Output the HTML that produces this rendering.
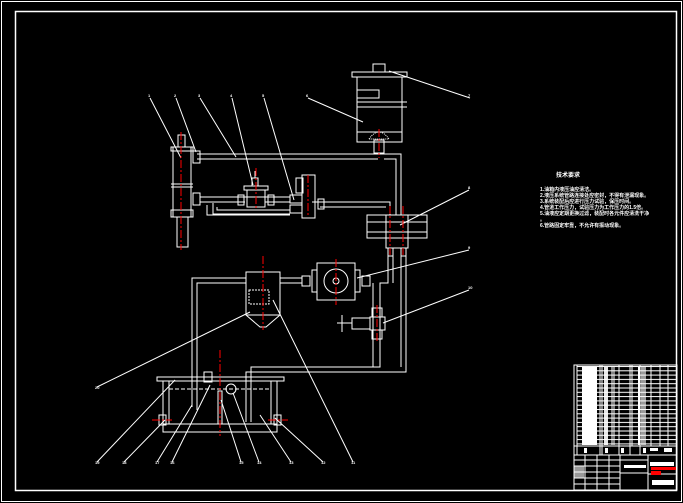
<!DOCTYPE html>
<html><head><meta charset="utf-8"><style>
html,body{margin:0;padding:0;background:#000;width:683px;height:503px;overflow:hidden}
svg{display:block}
text{font-family:"Liberation Sans","Noto Sans CJK SC",sans-serif;fill:#fff}
</style></head><body>
<svg width="683" height="503" viewBox="0 0 683 503" xmlns="http://www.w3.org/2000/svg">
<defs>
<pattern id="rows" x="0" y="366" width="10" height="4.3" patternUnits="userSpaceOnUse">
<line x1="0" y1="0.5" x2="10" y2="0.5" stroke="#fff" stroke-width="1"/>
</pattern>
</defs>
<g fill="none" stroke="#fff" stroke-width="1">
<!-- frames -->
<rect x="1.5" y="1.5" width="680" height="500"/>
<rect x="15.5" y="11.5" width="661" height="479" stroke-width="1.5"/>
<!-- reservoir -->
<rect x="352" y="72" width="55" height="5"/>
<rect x="373" y="64" width="12" height="8"/>
<rect x="357" y="77" width="45" height="65"/>
<rect x="357" y="90" width="22" height="8"/>
<line x1="357" y1="102" x2="407" y2="102"/><line x1="357" y1="107" x2="407" y2="107"/>
<rect x="357" y="132" width="45" height="10"/>
<path d="M369 139 Q379 125 389 139 Z" stroke-dasharray="1 1"/>
<rect x="374" y="140" width="10" height="13"/>
<!-- top pipe -->
<path d="M197 154 H401 V215 M197 159 H378 M384 159 H396 V215"/>
<!-- cylinder -->
<rect x="173" y="147" width="18" height="70"/>
<rect x="171" y="147" width="22" height="4"/>
<line x1="171" y1="184" x2="193" y2="184"/><line x1="171" y1="187" x2="193" y2="187"/>
<rect x="171" y="210" width="22" height="7"/>
<rect x="178" y="135" width="7" height="12"/>
<rect x="177" y="217" width="11" height="30"/>
<rect x="193" y="151" width="7" height="12"/>
<rect x="193" y="193" width="7" height="12"/>
<!-- lower pipes -->
<path d="M200 197 H290 M200 202 H245 M265 202 H290 M312 202 H390 V215 M320 207 H386"/>
<path d="M213 203 V214 H290 M217 207 V210 H290"/>
<path d="M207 205 V215 H290"/>
<rect x="247" y="190" width="18" height="17"/>
<rect x="244" y="186" width="24" height="4"/>
<path d="M252 186 V178 H258 V186 M255 178 V171"/>
<rect x="238" y="195" width="6" height="10"/><rect x="268" y="195" width="6" height="10"/>
<!-- solenoid valve -->
<rect x="302" y="175" width="13" height="43"/>
<rect x="296" y="178" width="7" height="15"/>
<rect x="290" y="195" width="12" height="8"/><rect x="290" y="205" width="12" height="8"/>
<rect x="318" y="199" width="6" height="10"/>
<!-- directional valve -->
<rect x="367" y="215" width="60" height="23"/>
<rect x="386" y="215" width="22" height="33"/>
<line x1="367" y1="222" x2="427" y2="222"/><line x1="367" y1="232" x2="427" y2="232"/>
<rect x="388" y="248" width="5" height="8"/><rect x="401" y="248" width="5" height="8"/>
<!-- right verticals -->
<path d="M388 256 V283 H380 V367 H251 V422 M393 256 V283 M401 256 V367 M406 256 V372 H246 V422"/>
<path d="M373 283 V367"/>
<!-- pump -->
<rect x="317" y="263" width="38" height="37"/>
<circle cx="336" cy="281" r="12"/><circle cx="336" cy="281" r="3"/>
<rect x="312" y="270" width="5" height="22"/><rect x="355" y="270" width="5" height="22"/>
<rect x="302" y="276" width="8" height="10"/><rect x="362" y="276" width="8" height="10"/>
<line x1="280" y1="278" x2="302" y2="278"/><line x1="280" y1="283" x2="302" y2="283"/>
<!-- filter -->
<rect x="246" y="272" width="34" height="43"/>
<path d="M246 315 L260 327 H266 L280 315"/>
<rect x="249" y="290" width="20" height="14" stroke-dasharray="2 1"/>
<path d="M246 278 H192 V407 M246 283 H197 V410"/>
<!-- pressure valve -->
<rect x="370" y="317" width="15" height="13"/>
<rect x="352" y="318" width="18" height="11"/>
<line x1="342" y1="315" x2="342" y2="332"/><line x1="337" y1="323" x2="352" y2="323"/>
<rect x="372" y="308" width="10" height="9"/><rect x="372" y="330" width="10" height="9"/>
<!-- tank -->
<rect x="157" y="377" width="127" height="4"/>
<rect x="163" y="381" width="6" height="43"/>
<rect x="271" y="381" width="6" height="43"/>
<rect x="163" y="424" width="114" height="8"/>
<line x1="169" y1="389" x2="271" y2="389" stroke-dasharray="4 2"/>
<rect x="218" y="391" width="4" height="33"/>
<rect x="204" y="372" width="8" height="10"/>
<circle cx="231" cy="389" r="5"/>
<rect x="159" y="415" width="7" height="10"/><rect x="274" y="415" width="7" height="10"/>
<!-- leaders -->
<path d="M150 98 L181 158 M176 98 L196 152 M200 98 L236 157 M232 98 L253 185 M264 98 L294 200 M308 98 L363 122 M389 71 L470 98 M469 190 L400 225 M469 250 L357 278 M469 290 L383 323"/>
<path d="M97 387 L250 312 M97 462 L175 380 M124 462 L165 420 M157 462 L192 405 M172 462 L210 385 M241 462 L221 400 M259 462 L233 393 M291 462 L260 415 M323 462 L275 418 M353 462 L273 300"/>
<!-- title block -->
<rect x="574" y="365" width="103" height="125"/>
</g>
<rect x="577" y="366" width="99" height="80" fill="url(#rows)"/>
<g fill="none" stroke="#fff" stroke-width="1">
<path d="M574 446 H677 M574 455 H677 M620 455 V490 M648 455 V490 M648 474 H677 M620 460 H648 M620 473 H648"/>
<path d="M577 365 V455 M600 365 V455 M602 365 V455 M619 365 V455 M630 365 V455 M632 365 V446 M640 365 V455 M651 365 V446 M660 365 V446 M668 365 V446"/>
<path d="M574 460 H620 M574 466 H620 M574 472 H620 M574 478 H620 M574 484 H620 M585 455 V490 M597 455 V490 M609 455 V490"/>
</g>
<g fill="#fff" stroke="none">
<rect x="582" y="367" width="15" height="78"/>
<rect x="604" y="367" width="4" height="78" opacity="0.9"/>
<rect x="611" y="367" width="4" height="78" opacity="0.5"/>
<rect x="638" y="367" width="2" height="78"/>
<rect x="641" y="367" width="5" height="78" opacity="0.6"/>
<rect x="584" y="448" width="3" height="5"/><rect x="605" y="448" width="3" height="5"/><rect x="621" y="448" width="3" height="5"/><rect x="643" y="448" width="3" height="5"/><rect x="650" y="448" width="8" height="3"/><rect x="664" y="448" width="8" height="4"/>
<rect x="574" y="466" width="10" height="12" opacity="0.6"/>
<rect x="650" y="462" width="24" height="4"/>
<rect x="624" y="465" width="22" height="3"/>
<rect x="652" y="480" width="22" height="5"/>
</g>
<g fill="#f00" stroke="none">
<rect x="651" y="467" width="25" height="3"/><rect x="651" y="471" width="10" height="4"/>
</g>
<g stroke="#f00" stroke-width="1" stroke-dasharray="8 2 2 2" fill="none">
<line x1="181" y1="132" x2="181" y2="250"/><line x1="379" y1="129" x2="379" y2="158"/>
<line x1="256" y1="168" x2="256" y2="208"/><line x1="308" y1="175" x2="308" y2="215"/>
<line x1="390" y1="206" x2="390" y2="255"/><line x1="403" y1="206" x2="403" y2="255"/>
<line x1="263" y1="256" x2="263" y2="330"/><line x1="336" y1="259" x2="336" y2="305"/>
<line x1="377" y1="305" x2="377" y2="342"/><line x1="220" y1="350" x2="220" y2="436"/>
<line x1="152" y1="420" x2="172" y2="420"/><line x1="268" y1="420" x2="288" y2="420"/>
</g>
<g font-size="4" font-weight="bold">
<text x="148" y="97">1</text><text x="174" y="97">2</text><text x="198" y="97">3</text><text x="230" y="97">4</text><text x="262" y="97">5</text><text x="306" y="97">6</text>
<text x="468" y="97">7</text><text x="468" y="189">8</text><text x="468" y="249">9</text><text x="468" y="289">10</text>
<text x="95" y="389">20</text><text x="95" y="464">19</text><text x="122" y="464">18</text><text x="155" y="464">17</text><text x="170" y="464">16</text><text x="239" y="464">15</text><text x="257" y="464">14</text><text x="289" y="464">13</text><text x="321" y="464">12</text><text x="351" y="464">11</text>
</g>
<g font-size="5" font-weight="bold">
<text x="556" y="177" font-size="6">技术要求</text>
<text x="540" y="191">1.油箱内液压油应清洁。</text>
<text x="540" y="197">2.液压系统管路连接处应密封，不得有泄漏现象。</text>
<text x="540" y="203">3.系统装配后应进行压力试验，保压时间。</text>
<text x="540" y="209">4.管道工作压力，试验压力为工作压力的1.5倍。</text>
<text x="540" y="215">5.油液应定期更换过滤，装配时各元件应清洗干净</text>
<text x="540" y="221">。</text>
<text x="540" y="227">6.管路固定牢靠，不允许有振动现象。</text>
</g>
</svg>
</body></html>
